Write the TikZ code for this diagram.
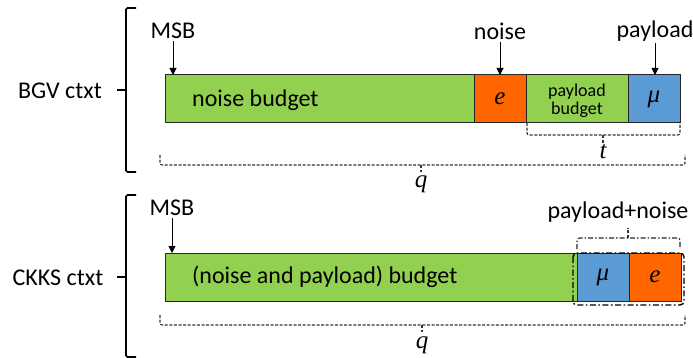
\documentclass[tikz,border=0pt]{standalone}
\usepackage{fontspec}
\setmainfont{Carlito}
\newfontfamily\varletters{Liberation Serif}
\usetikzlibrary{arrows.meta}
\definecolor{budgetgreen}{HTML}{92D050}
\definecolor{noiseorange}{HTML}{FF6600}
\definecolor{payloadblue}{HTML}{5B9BD5}
\newcommand\lblfont{\fontsize{24}{28}\selectfont}
\newcommand\smallfont{\fontsize{18}{20}\selectfont}
\newcommand\varfont{\fontsize{25}{27}\selectfont\varletters\itshape}

\begin{document}
\begin{tikzpicture}[x=1pt,y=-1pt,
  seg/.style={draw=black!85, line width=1pt, minimum height=48pt,
    anchor=north west, inner sep=0pt, outer sep=0pt},
  lbl/.style={font=\lblfont, inner sep=1pt},
  var/.style={font=\varfont, inner sep=1pt},
  arr/.style={-{Triangle[length=7pt,width=7pt]}, line width=1pt},
  dbrace/.style={draw=black!80, line width=1.1pt, dash pattern=on 3pt off 1.6pt,
    rounded corners=2pt},
  ddbrace/.style={draw=black!85, line width=1.1pt,
    dash pattern=on 5pt off 2pt on 1.5pt off 2pt, rounded corners=2.5pt},
  bigbrace/.style={draw=black, line width=1.6pt, rounded corners=1.5pt},
  group/.style={draw=black, line width=1.4pt,
    dash pattern=on 6pt off 2.5pt on 1.6pt off 2.5pt, rounded corners=4pt}]
\useasboundingbox (0,0) rectangle (693,358);

% ---------------- BGV ciphertext ----------------
\node[seg, fill=budgetgreen, minimum width=309pt] (bnb) at (165,75) {};
\node[seg, fill=noiseorange, minimum width=52pt] (be) at (bnb.north east) {};
\node[seg, fill=budgetgreen, minimum width=102pt] (bpb) at (be.north east) {};
\node[seg, fill=payloadblue, minimum width=52pt] (bmu) at (bpb.north east) {};

\node[lbl, anchor=west] (bnbtext) at (191,100) {noise budget};
\node[var] (betext) at (be.center) {e};
\node[font=\smallfont, align=center, inner sep=0pt, text depth=0pt] (bpbtext) at (bpb.center) {payload\\[-2pt]budget};
\node[var] (bmutext) at (bmu.center) {μ};

\node[lbl] (bmsb) at (173,31) {MSB};
\node[lbl] (bnoise) at (500,31) {noise};
\node[lbl] (bpay) at (655,31) {payload};
\draw[arr] ([yshift=-1pt]bmsb.south) -- (bmsb.south |- bnb.north);
\draw[arr] ([yshift=-1pt]bnoise.south) -- (bnoise.south |- be.north);
\draw[arr] ([yshift=-1pt]bpay.south) -- (bpay.south |- bmu.north);

\node[lbl] (bgv) at (60,91) {BGV ctxt};
\draw[bigbrace] (136,8) -| (126,172) -- (136,172);
\draw[bigbrace] (126,90) -- (117,90);

\node[var] (tlbl) at (603,152) {t};
\draw[dbrace] (527,123) |- (680,135) -- (680,123);
\draw[dbrace] (603,135) -- (603,143);

\node[var] (bq) at (421,184) {q};
\draw[dbrace] (160,155) |- (685,165) -- (685,155);
\draw[dbrace] (421,165) -- (421,172);

% ---------------- CKKS ciphertext ----------------
\node[seg, fill=budgetgreen, minimum width=412pt] (cnb) at (165,253) {};
\node[seg, fill=payloadblue, minimum width=52pt] (cmu) at (cnb.north east) {};
\node[seg, fill=noiseorange, minimum width=52pt] (ce) at (cmu.north east) {};

\node[lbl, anchor=west] (cnbtext) at (191,277) {(noise and payload) budget};
\node[var] (cmutext) at (cmu.center) {μ};
\node[var] (cetext) at (ce.center) {e};

\draw[group] (573,253) rectangle (684,305);

\node[lbl] (cmsb) at (172,208) {MSB};
\draw[arr] ([yshift=-1pt]cmsb.south) -- (cmsb.south |- cnb.north);

\node[lbl] (ckks) at (58,278) {CKKS ctxt};
\draw[bigbrace] (136,195) -| (126,357) -- (136,357);
\draw[bigbrace] (126,277) -- (117,277);

\node[lbl] (pn) at (618,212) {payload+noise};
\draw[ddbrace] (577,249) |- (680,238) -- (680,249);
\draw[dbrace] (628,238) -- (628,228);

\node[var] (cq) at (422,345) {q};
\draw[dbrace] (160,315) |- (685,325) -- (685,315);
\draw[dbrace] (422,325) -- (422,332);
\end{tikzpicture}
\end{document}
